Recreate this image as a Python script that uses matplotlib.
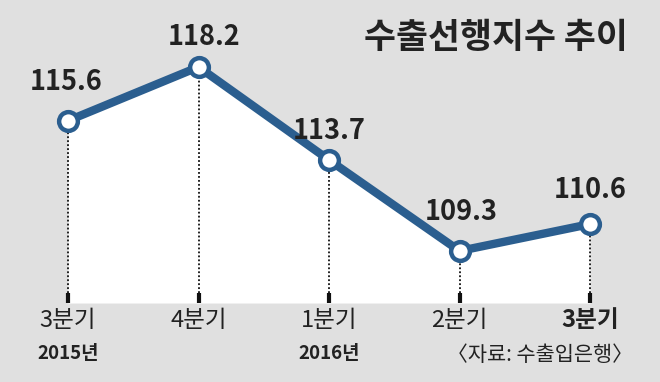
import matplotlib.pyplot as plt
import numpy as np

plt.rcParams['font.family'] = ['Noto Sans CJK KR', 'DejaVu Sans']

# --- data ---
quarters = ['3분기', '4분기', '1분기', '2분기', '3분기']
years = {0: '2015년', 2: '2016년'}
values = [115.6, 118.2, 113.7, 109.3, 110.6]
title = '수출선행지수 추이'
source = '〈자료: 수출입은행〉'

# --- style / layout ---
BG = '#e0e0e0'
LINE = '#2b5e8f'
TXT = '#222222'
PX = 20.67      # pixels per index point
BASE = 106.78   # bottom of white area (data units)
STUB = 0.48     # solid tick stub length
# label offsets above each point (dx in x-units, dy in pixels)
lab_dx = [-0.015, 0.045, 0.0, 0.015, 0.0]
lab_dy = [38.5, 29.5, 29, 39, 34]

fig = plt.figure(figsize=(6.6, 3.82), dpi=100)
fig.patch.set_facecolor(BG)
ax = fig.add_axes([0, 0, 1, 1])
ax.set_facecolor(BG)
ax.set_xlim(-0.521, 4.536)
ax.set_ylim(102.96, 121.44)
ax.axis('off')

x = np.arange(len(values))

# white area under the line
ax.fill_between(x, values, BASE, color='white', zorder=1, lw=0)

# dotted drop lines + solid stubs
for xi, v in zip(x, values):
    ax.plot([xi, xi], [BASE + STUB, v], color='#111111', lw=1.3,
            linestyle=(0, (1, 1.2)), zorder=2)
    ax.plot([xi, xi], [BASE, BASE + STUB], color='#111111', lw=3, zorder=2,
            solid_capstyle='butt')

ax.plot(x, values, color=LINE, lw=6, zorder=3, solid_capstyle='round')
ax.plot(x, values, 'o', ms=13.5, mfc='white', mec=LINE, mew=3.2, zorder=4)

# value labels
for xi, v, dx, dy in zip(x, values, lab_dx, lab_dy):
    ax.text(xi + dx, v + dy / PX, f'{v}', ha='center', va='center',
            fontsize=19.5, fontweight='bold', color=TXT, zorder=5)

# quarter labels
for i, q in enumerate(quarters):
    ax.text(i, 105.95, q, ha='center', va='center', fontsize=17,
            color=TXT, fontweight='bold' if i == len(quarters) - 1 else 'normal')
for i, y in years.items():
    ax.text(i, 104.33, y, ha='center', va='center', fontsize=13.5,
            fontweight='bold', color=TXT)

ax.text(4.33, 104.27, source, ha='right', va='center', fontsize=15, color=TXT)
ax.text(4.29, 119.65, title, ha='right', va='center', fontsize=25,
        fontweight='bold', color=TXT)

fig.savefig('out.png', dpi=100, facecolor=BG)
